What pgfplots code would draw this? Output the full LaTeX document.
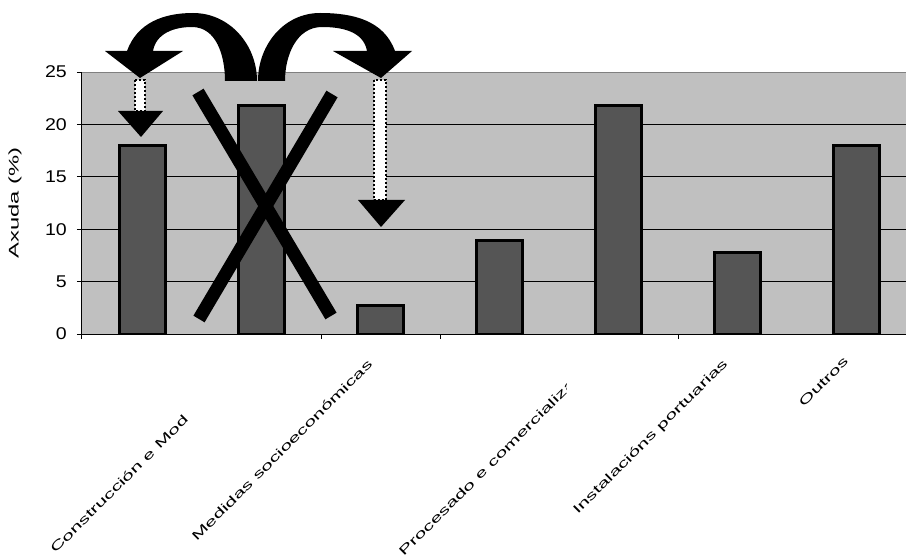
\documentclass[border=0pt]{standalone}
\usepackage{pgfplots}
\pgfplotsset{compat=1.18}
\usepackage{fontspec}
\setmainfont{Liberation Sans}
\usepackage{graphicx}
\definecolor{bg}{HTML}{C0C0C0}
\definecolor{barc}{HTML}{555555}
\definecolor{topc}{HTML}{808080}
\begin{document}
\begin{tikzpicture}
\useasboundingbox (0,0) rectangle (906pt,558pt);
\begin{axis}[
 at={(82pt,224pt)}, anchor=south west,
 scale only axis, width=824pt, height=262pt,
 xmin=-0.51, xmax=6.414, ymin=0, ymax=25,
 ybar,
 axis x line*=bottom, axis y line*=left,
 axis line style={black, line width=1pt, -},
 ytick={0,5,...,25},
 xtick={-0.51,1.5,2.5,4.5}, xticklabels={},
 tick align=outside, major tick length=5pt,
 tick style={black, line width=1pt},
 ymajorgrids, grid style={black, line width=1pt},
 axis background/.style={fill=bg},
 /pgf/number format/assume math mode=true,
 yticklabel style={font=\fontsize{17}{17}\selectfont, inner sep=0pt, anchor=east, xshift=-10pt},
 yticklabel={\scalebox{1.15}[1]{\pgfmathprintnumber{\tick}}},
]
\addplot[bar width=0.39, fill=barc, draw=black, line width=3pt] coordinates {(0,18) (1,21.8) (2,2.7) (3,8.9) (4,21.8) (5,7.8) (6,18)};
\draw[topc, line width=2.5pt] (axis cs:-0.51,25) -- (axis cs:6.414,25);
\end{axis}
\begin{scope}[x=1pt, y=-1pt, shift={(0pt,558pt)}]
% cross
\draw[line width=13pt] (199,319) -- (332,94);
\draw[line width=13pt] (198,92) -- (331,316);
% curved arrows
\fill (257,81) to[out=90,in=0] (193,13) to[out=180,in=70] (127,51) -- (105,51) -- (140,78) -- (183,51) -- (153,51) to[out=80,in=180] (192,27) to[out=0,in=90] (225,81) -- cycle;
\fill (258,81) to[out=90,in=180] (320,13) to[out=0,in=110] (395,51) -- (412,51) -- (381,78) -- (333,51) -- (367,51) to[out=100,in=0] (322,27) to[out=180,in=90] (285,81) -- cycle;
% dotted stems
\draw[fill=white, line width=2pt, dash pattern=on 2pt off 2pt] (135,80) rectangle (145,111);
\draw[fill=white, line width=2pt, dash pattern=on 2pt off 2pt] (374,80) rectangle (386,200);
\fill (118,111) -- (163,111) -- (141,137) -- cycle;
\fill (358,200) -- (405,200) -- (381,227) -- cycle;
% y label
\node[rotate=90, font=\fontsize{14}{14}\selectfont, inner sep=0pt] at (15,203) {\scalebox{1.7}[1]{Axuda (\%)}};
% category labels
\node[rotate=45, anchor=east, inner sep=0pt, font=\fontsize{12.5}{12.5}\selectfont] at (186,417) {\scalebox{1.7}[1]{Construcción e Mod}};
\node[rotate=45, anchor=east, inner sep=0pt, font=\fontsize{12.5}{12.5}\selectfont] at (370,362) {\scalebox{1.7}[1]{Medidas socioeconómicas}};
\begin{scope}
\clip (0,0) rectangle (566,558);
\node[rotate=45, anchor=south west, inner sep=0pt, font=\fontsize{12.5}{12.5}\selectfont] at (404,557) {\scalebox{1.7}[1]{Procesado e comercialización}};
\end{scope}
\node[rotate=45, anchor=east, inner sep=0pt, font=\fontsize{12.5}{12.5}\selectfont] at (726,362) {\scalebox{1.7}[1]{Instalacións portuarias}};
\node[rotate=45, anchor=east, inner sep=0pt, font=\fontsize{12.5}{12.5}\selectfont] at (846,359) {\scalebox{1.7}[1]{Outros}};
\end{scope}
\end{tikzpicture}
\end{document}
